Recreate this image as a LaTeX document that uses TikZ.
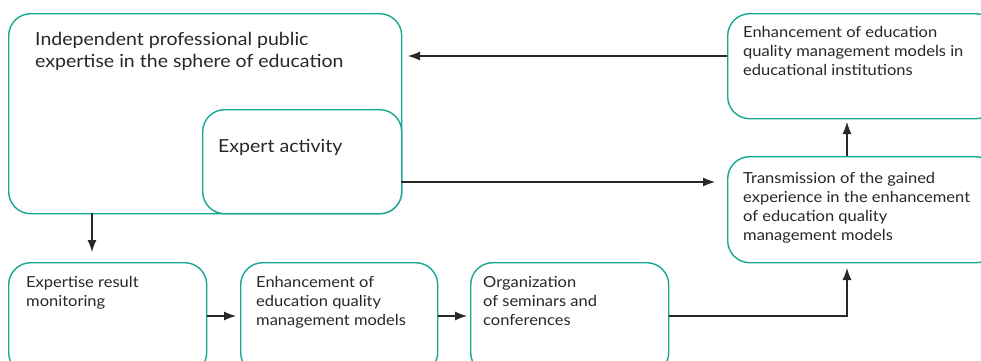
\documentclass[tikz,border=0pt]{standalone}
\usepackage{fontspec}
\setmainfont{Lato}[FakeStretch=1.085]
\usetikzlibrary{arrows.meta}
\definecolor{frame}{RGB}{22,166,146}
\definecolor{ink}{RGB}{40,40,40}
\tikzset{
  box/.style={draw=frame, line width=1.4pt, rounded corners=22pt, fill=white,
    anchor=north west, inner sep=0pt},
  bigtxt/.style={anchor=north west, inner sep=0pt, align=left, text=ink,
    font=\fontsize{18}{22}\selectfont},
  smalltxt/.style={anchor=north west, inner sep=0pt, align=left, text=ink,
    font=\fontsize{15.2}{19}\selectfont},
  link/.style={draw=ink, line width=1.1pt, -{Latex[length=12pt,width=9pt]}},
}
\begin{document}
\begin{tikzpicture}[x=1pt,y=1pt]
\useasboundingbox (0,0) rectangle (981,-360);
\clip (0,0) rectangle (981,-360);

% boxes
\node[box, minimum width=393pt, minimum height=200pt] (main) at (8,-13) {};
\node[box, minimum width=199pt, minimum height=104pt] (expert) at (202,-109) {};
\node[box, minimum width=270pt, minimum height=105pt] (inst) at (727,-13) {};
\node[box, minimum width=270pt, minimum height=106pt] (trans) at (727,-156) {};
\node[box, minimum width=198pt, minimum height=112pt] (monit) at (8,-262) {};
\node[box, minimum width=197pt, minimum height=112pt] (enh) at (240,-262) {};
\node[box, minimum width=198pt, minimum height=112pt] (org) at (470,-262) {};

% texts
\node[bigtxt] (tmain) at ([shift={(27,-19)}]main.north west)
  {Independent professional public\\expertise in the sphere of education};
\node[bigtxt] (texpert) at ([shift={(16,-30)}]expert.north west) {Expert activity};
\node[smalltxt] (tinst) at ([shift={(16,-13)}]inst.north west)
  {Enhancement of education\\quality management models in\\educational institutions};
\node[smalltxt] (ttrans) at ([shift={(16,-16)}]trans.north west)
  {Transmission of the gained\\experience in the enhancement\\of education quality\\management models};
\node[smalltxt] (tmonit) at ([shift={(18,-14)}]monit.north west)
  {Expertise result\\monitoring};
\node[smalltxt] (tenh) at ([shift={(16,-14)}]enh.north west)
  {Enhancement of\\education quality\\management models};
\node[smalltxt] (torg) at ([shift={(13,-14)}]org.north west)
  {Organization\\of seminars and\\conferences};

% connectors
\coordinate (instL) at (727,-56);
\coordinate (mainR) at (401,-56);
\draw[link, shorten >=7pt] (instL) -- (mainR);
\coordinate (expR) at (401,-182);
\coordinate (transL) at (727,-182);
\draw[link, shorten >=12pt] (expR) -- (transL);
\coordinate (mainB) at (92,-213);
\coordinate (monitT) at (92,-262);
\draw[link, shorten >=10pt] (mainB) -- (monitT);
\draw[link, shorten >=4pt] (monit.east |- 0,-316) -- (enh.west |- 0,-316);
\draw[link, shorten >=3pt] (enh.east |- 0,-316) -- (org.west |- 0,-316);
\coordinate (transB) at (847,-262);
\draw[link, shorten >=6pt] (org.east |- 0,-316) -| (transB);
\coordinate (transT) at (847,-156);
\coordinate (instB) at (847,-118);
\draw[link, shorten >=4pt] (transT) -- (instB);
\end{tikzpicture}
\end{document}
